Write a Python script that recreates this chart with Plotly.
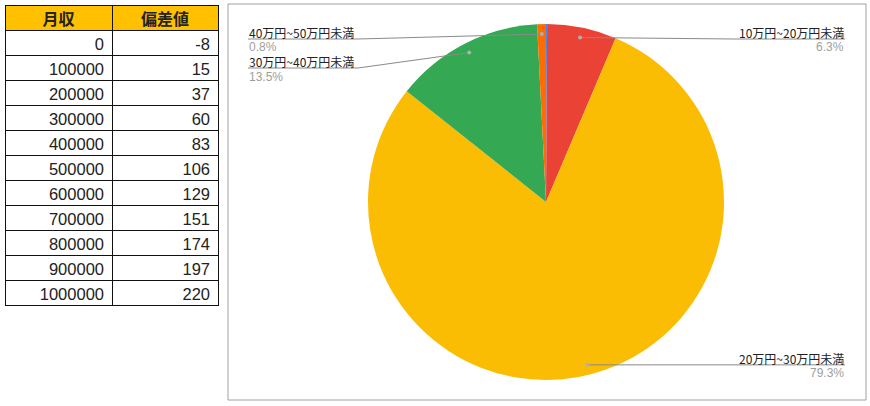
import math
import plotly.graph_objects as go

# table data
income = [0, 100000, 200000, 300000, 400000, 500000, 600000, 700000, 800000, 900000, 1000000]
deviation = [-8, 15, 37, 60, 83, 106, 129, 151, 174, 197, 220]
table_header = ["月収", "偏差値"]

# pie data (share in %)
categories = ["10万円未満", "10万円~20万円未満", "20万円~30万円未満", "30万円~40万円未満", "40万円~50万円未満"]
shares = [0.1, 6.3, 79.3, 13.5, 0.8]
colors = ["#4285F4", "#EA4335", "#FBBC04", "#34A853", "#FF6D01"]

W, H = 870, 406
# pie geometry in pixels
CX, CY, R = 546, 202, 178
DOT_R = 168
LEFT_X, RIGHT_X, LABEL_W = 248, 845, 110


def px(x):
    return x / W


def py(y):
    return 1 - y / H


fig = go.Figure()

fig.add_trace(go.Table(
    domain=dict(x=[px(5), px(218)], y=[py(307), py(5)]),
    columnwidth=[107, 106],
    header=dict(
        values=table_header,
        fill_color="#FFC000",
        line=dict(color="#111111", width=1),
        align="center",
        height=25,
        font=dict(family="Noto Sans CJK JP", size=16, color="#222222", weight="bold"),
    ),
    cells=dict(
        values=[income, deviation],
        fill_color="white",
        line=dict(color="#111111", width=1),
        align="right",
        height=25,
        font=dict(family="Liberation Sans, Arial", size=16.5, color="#222222"),
    ),
))

fig.add_trace(go.Pie(
    labels=categories,
    values=shares,
    sort=False,
    direction="clockwise",
    rotation=0,
    marker=dict(colors=colors, line=dict(width=0)),
    textinfo="none",
    showlegend=False,
    domain=dict(x=[px(CX - R), px(CX + R)], y=[py(CY + R), py(CY - R)]),
))

shapes = [dict(type="rect", xref="paper", yref="paper",
               x0=px(228), x1=px(866), y0=py(400), y1=py(4),
               line=dict(color="#A0A0A0", width=1))]
annotations = []

# slice mid angles and dot positions
total = sum(shares)
slices = []
cum = 0
for name, v in zip(categories, shares):
    mid = (cum + v / 2) / total * 360
    cum += v
    pct = v / total * 100
    if pct < 0.5:
        continue
    dx = CX + DOT_R * math.sin(math.radians(mid))
    dy = CY - DOT_R * math.cos(math.radians(mid))
    slices.append((name, pct, mid, dx, dy))

left_last = None
for name, pct, mid, dx, dy in sorted(slices, key=lambda s: s[4]):
    ly = max(dy, 39)
    if mid < 180:
        x_start, x_end = RIGHT_X - LABEL_W, RIGHT_X
        xa, anchor = RIGHT_X, "right"
        pts = [(dx, dy), (x_start, ly), (x_end, ly)]
    else:
        if left_last is not None:
            ly = max(ly, left_last + 29)
        left_last = ly
        x_start, x_end = LEFT_X, LEFT_X + LABEL_W
        xa, anchor = LEFT_X, "left"
        pts = [(x_start, ly), (x_end, ly), (dx, dy)]
    for (a, b), (c, d) in zip(pts[:-1], pts[1:]):
        shapes.append(dict(type="line", xref="paper", yref="paper",
                           x0=px(a), y0=py(b), x1=px(c), y1=py(d),
                           line=dict(color="#8A8A8A", width=1)))
    shapes.append(dict(type="circle", xref="paper", yref="paper",
                       xsizemode="pixel", ysizemode="pixel",
                       xanchor=px(dx), yanchor=py(dy),
                       x0=-2, x1=2, y0=-2, y1=2,
                       fillcolor="#B0B0B0", line=dict(width=0)))
    annotations.append(dict(x=px(xa), y=py(ly + 3), xref="paper", yref="paper",
                            text=name, showarrow=False, xanchor=anchor, yanchor="bottom",
                            borderpad=0,
                            font=dict(family="Noto Sans CJK JP", size=12, color="#222222")))
    annotations.append(dict(x=px(xa), y=py(ly + 0.5), xref="paper", yref="paper",
                            text="%.1f%%" % pct, showarrow=False, xanchor=anchor, yanchor="top",
                            borderpad=0,
                            font=dict(family="Liberation Sans, Arial", size=12, color="#9E9E9E")))

fig.update_layout(
    width=W, height=H,
    margin=dict(l=0, r=0, t=0, b=0),
    paper_bgcolor="white",
    plot_bgcolor="white",
    shapes=shapes,
    annotations=annotations,
)

# remove the default page margin so the figure sits at the window's corner
fig.write_html("out.html", config=dict(displayModeBar=False),
               post_script="document.body.style.margin='0';")
